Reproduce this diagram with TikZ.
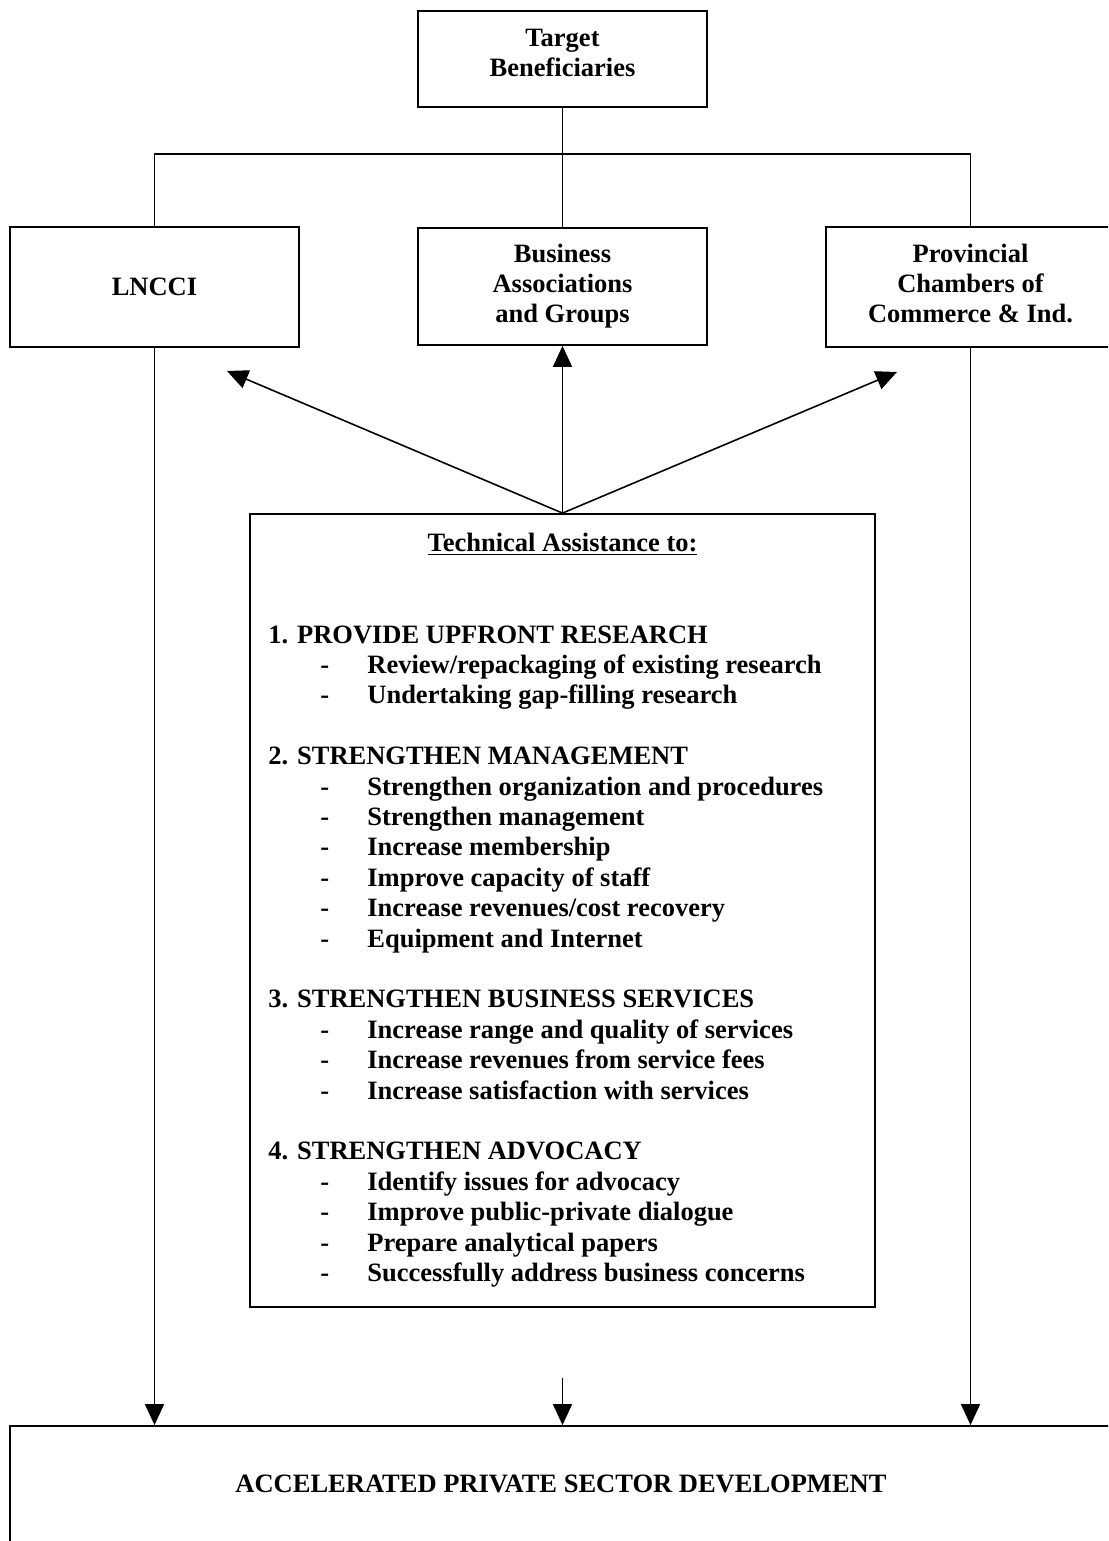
\documentclass[tikz,border=0pt]{standalone}
\usepackage{fontspec}
\setmainfont{Liberation Serif}
\usetikzlibrary{arrows.meta}
\newcommand\tadash{\makebox[23.5pt][l]{-}}
\begin{document}
\begin{tikzpicture}[x=0.5pt,y=-0.5pt,
  every node/.style={font=\fontsize{13.25pt}{15pt}\selectfont\bfseries},
  box/.style={draw, line width=0.9pt, align=center, inner sep=0pt},
  txt/.style={align=center, inner sep=0pt},
  conn/.style={line width=0.8pt},
  arr/.style={conn, -{Triangle[length=10.5pt,width=9.5pt]}},
  item/.style={anchor=base west, inner sep=0pt},
]
\useasboundingbox (0,0) rectangle (1108,1541);
\clip (0,0) rectangle (1108,1541);

% boxes
\node[box, minimum width=144.5pt, minimum height=48pt] (target) at (562.5,59) {};
\node[txt] (targettext) at (562.5,53) {Target\\Beneficiaries};
\node[box, minimum width=144.5pt, minimum height=60pt] (lncci) at (154.5,287) {LNCCI};
\node[box, minimum width=144.5pt, minimum height=58.5pt] (biz) at (562.5,286.5) {Business\\Associations\\and Groups};
\node[box, minimum width=144.5pt, minimum height=60pt] (prov) at (970.5,287) {};
\node[txt] (provtext) at (970.5,283) {Provincial\\Chambers of\\Commerce \& Ind.};
\node[box, minimum width=312.5pt, minimum height=396.5pt] (ta) at (562.5,910.5) {};
\node[box, minimum width=551pt, minimum height=58pt] (dev) at (561,1484) {ACCELERATED PRIVATE SECTOR DEVELOPMENT};

% tree from target
\coordinate (hub) at (562.5,154);
\draw[conn] (target.south) -- (biz.north);
\draw[conn] (lncci.north) |- (hub) -| (prov.north);

% arrows from TA box
\coordinate (lt) at (227,371);
\coordinate (rt) at (897,372);
\draw[arr] (ta.north) -- (lt);
\draw[arr] (ta.north) -- (biz.south);
\draw[arr] (ta.north) -- (rt);

% arrows to bottom box
\coordinate (mid) at (562.5,1378);
\draw[arr] (lncci.south) -- (lncci.south |- dev.north);
\draw[arr] (prov.south) -- (prov.south |- dev.north);
\draw[arr] (mid) -- (mid |- dev.north);

% TA content
\node[anchor=base, inner sep=0pt] (title) at (562.5,551) {\underline{Technical Assistance to:}};

\node[item] (h1) at (268,643) {1. PROVIDE UPFRONT RESEARCH};
\node[item] (i11) at (320,673.4) {\tadash Review/repackaging of existing research};
\node[item] (i12) at (320,703.8) {\tadash Undertaking gap-filling research};

\node[item] (h2) at (268,764.6) {2. STRENGTHEN MANAGEMENT};
\node[item] (i21) at (320,795) {\tadash Strengthen organization and procedures};
\node[item] (i22) at (320,825.4) {\tadash Strengthen management};
\node[item] (i23) at (320,855.8) {\tadash Increase membership};
\node[item] (i24) at (320,886.2) {\tadash Improve capacity of staff};
\node[item] (i25) at (320,916.6) {\tadash Increase revenues/cost recovery};
\node[item] (i26) at (320,947) {\tadash Equipment and Internet};

\node[item] (h3) at (268,1007.8) {3. STRENGTHEN BUSINESS SERVICES};
\node[item] (i31) at (320,1038.2) {\tadash Increase range and quality of services};
\node[item] (i32) at (320,1068.6) {\tadash Increase revenues from service fees};
\node[item] (i33) at (320,1099) {\tadash Increase satisfaction with services};

\node[item] (h4) at (268,1159.8) {4. STRENGTHEN ADVOCACY};
\node[item] (i41) at (320,1190.2) {\tadash Identify issues for advocacy};
\node[item] (i42) at (320,1220.6) {\tadash Improve public-private dialogue};
\node[item] (i43) at (320,1251) {\tadash Prepare analytical papers};
\node[item] (i44) at (320,1281.4) {\tadash Successfully address business concerns};
\end{tikzpicture}
\end{document}
